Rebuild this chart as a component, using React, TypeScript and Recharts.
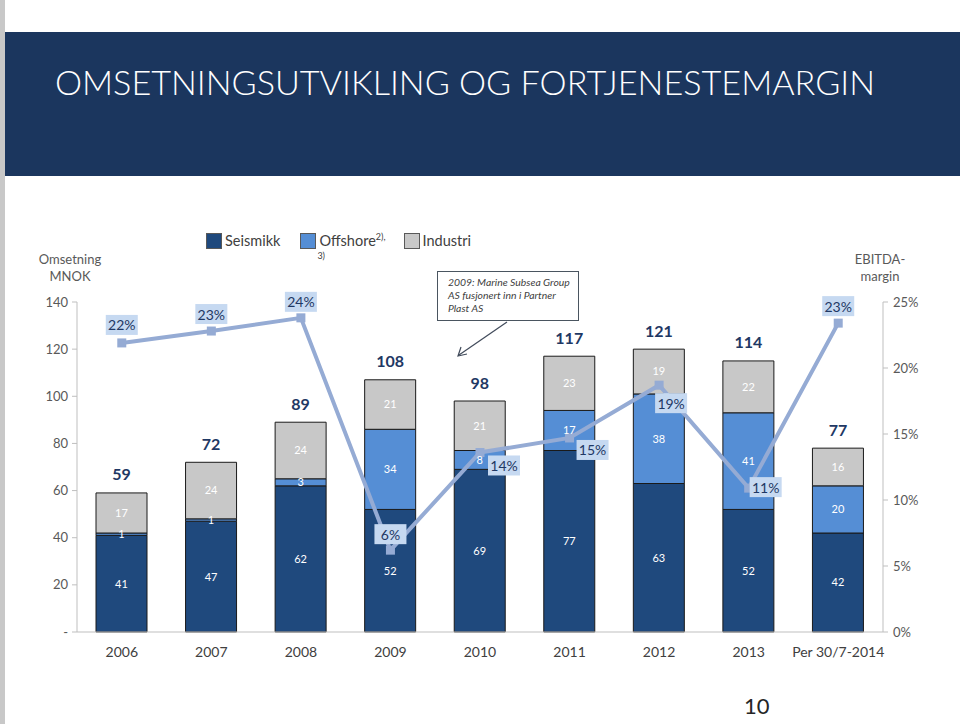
import React from "react";
import { ComposedChart, Bar, Line, XAxis, YAxis, LabelList } from "recharts";

const years = ["2006", "2007", "2008", "2009", "2010", "2011", "2012", "2013", "Per 30/7-2014"];
const seismikk = [41, 47, 62, 52, 69, 77, 63, 52, 42];
const offshore = [1, 1, 3, 34, 8, 17, 38, 41, 20];
const industri = [17, 24, 24, 21, 21, 23, 19, 22, 16];
const totals = [59, 72, 89, 108, 98, 117, 121, 114, 77];
const ebitdaMargin = [0.219, 0.228, 0.238, 0.062, 0.136, 0.147, 0.187, 0.109, 0.234];
const leftTicks = [0, 20, 40, 60, 80, 100, 120, 140];
const rightTicks = [0, 0.05, 0.1, 0.15, 0.2, 0.25];

// where each margin label sits relative to its point (dx, dy)
const marginLabelOffsets = [
  [0, -18], [0, -17], [0, -16], [0, -16], [24, 13], [23, 12], [12, 18], [17, -1], [0, -17],
];

const NAVY = "#1f497d";
const BLUE = "#558ed5";
const GREY = "#c8c8c8";
const LINE = "#95abd4";
const FONT = "Lato, 'Open Sans', sans-serif";

const data = years.map((year, i) => ({
  year,
  seismikk: seismikk[i],
  offshore: offshore[i],
  industri: industri[i],
  margin: ebitdaMargin[i],
}));

const SquareDot = (props: any) => {
  const { cx, cy } = props;
  if (cx == null || cy == null) return null;
  return <rect x={cx - 4.5} y={cy - 4.5} width={9} height={9} fill={LINE} />;
};

const TotalLabel = (props: any) => {
  const { x, y, width, index } = props;
  return (
    <text
      x={x + width / 2}
      y={y - 19}
      textAnchor="middle"
      dominantBaseline="central"
      fontFamily={FONT}
      fontWeight={700}
      fontSize={16}
      fill="#1f3864"
    >
      {totals[index]}
    </text>
  );
};

const MarginLabel = (props: any) => {
  const { x, y, index, value } = props;
  const [dx, dy] = marginLabelOffsets[index] || [0, -17];
  const cx = x + dx;
  const cy = y + dy;
  const w = 32;
  const h = 20;
  return (
    <g>
      <rect x={cx - w / 2} y={cy - h / 2} width={w} height={h} fill="#c6d9f1" />
      <text
        x={cx}
        y={cy}
        textAnchor="middle"
        dominantBaseline="central"
        fontFamily={FONT}
        fontSize={14}
        fill="#1f3864"
      >
        {`${Math.round(value * 100)}%`}
      </text>
    </g>
  );
};

const innerLabel = { fill: "#ffffff", fontSize: 11, fontFamily: FONT };

const LegendItem = ({ color, label, sup, gap }: { color: string; label: string; sup?: boolean; gap: number }) => (
  <div style={{ display: "flex", alignItems: "flex-start", marginRight: gap, position: "relative" }}>
    <div
      style={{
        width: 14,
        height: 14,
        background: color,
        border: "1px solid #595959",
        marginRight: 3,
        marginTop: 1,
      }}
    />
    <span style={{ fontSize: 14.5, color: "#404040", lineHeight: "17px" }}>
      {label}
      {sup && <sup style={{ fontSize: 9, verticalAlign: "top", lineHeight: "9px" }}>2),</sup>}
    </span>
    {sup && (
      <span style={{ position: "absolute", left: 17, top: 19, fontSize: 9, lineHeight: "9px", color: "#404040" }}>3)</span>
    )}
  </div>
);

export default function App() {
  return (
    <div
      style={{
        position: "absolute",
        left: 0,
        top: 0,
        width: 960,
        height: 724,
        background: "#ffffff",
        fontFamily: FONT,
        overflow: "hidden",
      }}
    >
      <div style={{ position: "absolute", left: 0, top: 0, width: 5, height: 724, background: "#c8c8c8" }} />
      <div style={{ position: "absolute", left: 5, top: 32, width: 955, height: 144, background: "#1b365e" }}>
        <div
          style={{
            position: "absolute",
            left: 50,
            top: 29,
            fontSize: 34.2,
            fontWeight: 300,
            color: "#ffffff",
            whiteSpace: "nowrap",
          }}
        >
          OMSETNINGSUTVIKLING OG FORTJENESTEMARGIN
        </div>
      </div>

      <div style={{ position: "absolute", left: 0, top: 0 }}>
        <ComposedChart
          width={960}
          height={724}
          data={data}
          margin={{ top: 302, right: 0, bottom: 62, left: 0 }}
          barSize={51}
        >
          <XAxis
            dataKey="year"
            interval={0}
            tickLine={false}
            axisLine={{ stroke: "#bfbfbf" }}
            tick={{ fill: "#404040", fontSize: 14, fontFamily: FONT }}
            tickMargin={9}
            height={30}
          />
          <YAxis
            yAxisId="left"
            orientation="left"
            width={77}
            domain={[0, 140]}
            ticks={leftTicks}
            interval={0}
            tickFormatter={(v: number) => (v === 0 ? "-" : String(v))}
            axisLine={{ stroke: "#bfbfbf" }}
            tickLine={{ stroke: "#bfbfbf" }}
            tickSize={5}
            tickMargin={4}
            tick={{ fill: "#595959", fontSize: 13, fontFamily: FONT }}
          />
          <YAxis
            yAxisId="right"
            orientation="right"
            width={77}
            domain={[0, 0.25]}
            ticks={rightTicks}
            interval={0}
            tickFormatter={(v: number) => `${Math.round(v * 100)}%`}
            axisLine={{ stroke: "#bfbfbf" }}
            tickLine={{ stroke: "#bfbfbf" }}
            tickSize={5}
            tickMargin={5}
            tick={{ fill: "#595959", fontSize: 13, fontFamily: FONT }}
          />
          <Bar yAxisId="left" dataKey="seismikk" stackId="a" fill={NAVY} stroke="#1a1a1a" strokeWidth={1} isAnimationActive={false}>
            <LabelList dataKey="seismikk" position="center" style={innerLabel} />
          </Bar>
          <Bar yAxisId="left" dataKey="offshore" stackId="a" fill={BLUE} stroke="#1a1a1a" strokeWidth={1} isAnimationActive={false}>
            <LabelList dataKey="offshore" position="center" style={innerLabel} />
          </Bar>
          <Bar yAxisId="left" dataKey="industri" stackId="a" fill={GREY} stroke="#1a1a1a" strokeWidth={1} isAnimationActive={false}>
            <LabelList dataKey="industri" position="center" style={innerLabel} />
            <LabelList dataKey="industri" content={<TotalLabel />} />
          </Bar>
          <Line
            yAxisId="right"
            dataKey="margin"
            type="linear"
            stroke={LINE}
            strokeWidth={4}
            dot={<SquareDot />}
            activeDot={false}
            isAnimationActive={false}
          >
            <LabelList dataKey="margin" content={<MarginLabel />} />
          </Line>
        </ComposedChart>
      </div>

      {/* legend */}
      <div style={{ position: "absolute", left: 206, top: 232, display: "flex" }}>
        <LegendItem color={NAVY} label="Seismikk" gap={20} />
        <LegendItem color={BLUE} label="Offshore" sup gap={18} />
        <LegendItem color={GREY} label="Industri" gap={0} />
      </div>

      {/* axis titles */}
      <div style={{ position: "absolute", left: 30, top: 251, width: 80, textAlign: "center", fontSize: 13, lineHeight: "17px", color: "#595959" }}>
        Omsetning
        <br />
        MNOK
      </div>
      <div style={{ position: "absolute", left: 840, top: 251, width: 80, textAlign: "center", fontSize: 13, lineHeight: "17px", color: "#595959" }}>
        EBITDA-
        <br />
        margin
      </div>

      {/* annotation */}
      <div
        style={{
          position: "absolute",
          left: 437,
          top: 271,
          width: 142,
          height: 50,
          border: "1px solid #4a5560",
          background: "#ffffff",
          boxSizing: "border-box",
          padding: "4px 0 0 10px",
          fontSize: 10.4,
          fontStyle: "italic",
          lineHeight: "13px",
          color: "#404040",
          whiteSpace: "nowrap",
        }}
      >
        2009: Marine Subsea Group
        <br />
        AS fusjonert inn i Partner
        <br />
        Plast AS
      </div>
      <svg style={{ position: "absolute", left: 0, top: 0 }} width={960} height={724} pointerEvents="none">
        <line x1={507} y1={322} x2={459} y2={355} stroke="#404a5a" strokeWidth={1.2} />
        <polyline points="461,347 458,356 467,354" fill="none" stroke="#404a5a" strokeWidth={1.2} />
      </svg>

      <div style={{ position: "absolute", left: 744, top: 692, fontSize: 22, color: "#262626" }}>10</div>
    </div>
  );
}
